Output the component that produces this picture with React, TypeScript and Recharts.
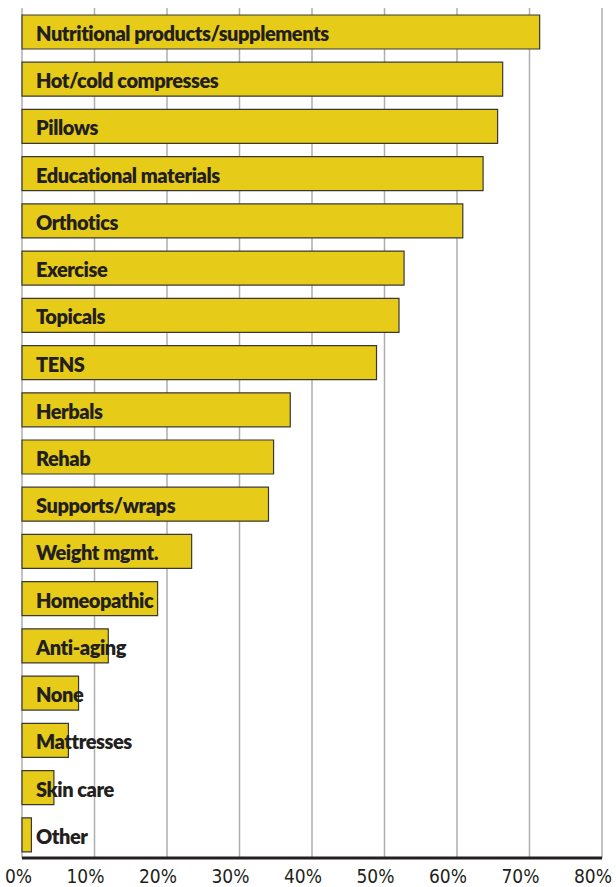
import React from 'react';
import { BarChart, Bar, XAxis, YAxis, CartesianGrid, LabelList } from 'recharts';

const categories = [
    'Nutritional products/supplements',
    'Hot/cold compresses',
    'Pillows',
    'Educational materials',
    'Orthotics',
    'Exercise',
    'Topicals',
    'TENS',
    'Herbals',
    'Rehab',
    'Supports/wraps',
    'Weight mgmt.',
    'Homeopathic',
    'Anti-aging',
    'None',
    'Mattresses',
    'Skin care',
    'Other',
];

const shares = [71.4, 66.3, 65.6, 63.6, 60.8, 52.7, 52.0, 48.9, 37.0, 34.7, 34.0, 23.4, 18.7, 11.9, 7.8, 6.4, 4.4, 1.3];

const xTicks = [0, 10, 20, 30, 40, 50, 60, 70, 80];

const data = categories.map((name, i) => ({ name, value: shares[i] }));

const BAR_COLOR = '#E7CB19';
const INK = '#231F20';

function TickLabel({ x, y, payload }: any) {
    return (
        <text
            x={x + 10}
            y={y + 17}
            textAnchor="end"
            fontFamily="'Liberation Sans Narrow', 'DejaVu Sans Condensed', sans-serif"
            fontSize={19}
            fill={INK}
        >
            {`${payload.value}%`}
        </text>
    );
}

function BarLabel({ y, height, value }: any) {
    return (
        <text
            x={36}
            y={y + height / 2 + 1}
            dominantBaseline="central"
            fontFamily="Lato, sans-serif"
            fontWeight={800}
            fontSize={20}
            letterSpacing={-0.45}
            fill={INK}
        >
            {value}
        </text>
    );
}

export default function App() {
    return (
        <div style={{ position: 'absolute', left: 0, top: 0, width: 616, height: 887, background: '#fff' }}>
            <BarChart
                width={616}
                height={887}
                data={data}
                layout="vertical"
                margin={{ top: 8, right: 14, bottom: 0, left: 22 }}
            >
                <CartesianGrid horizontal={false} stroke="#AEAEB2" strokeWidth={1.5} />
                <XAxis
                    type="number"
                    domain={[0, 80]}
                    ticks={xTicks}
                    height={29}
                    axisLine={{ stroke: INK, strokeWidth: 3 }}
                    tickLine={false}
                    tick={<TickLabel />}
                    interval={0}
                />
                <YAxis
                    type="category"
                    dataKey="name"
                    width={0}
                    tick={false}
                    tickLine={false}
                    axisLine={{ stroke: INK, strokeWidth: 3 }}
                />
                <Bar
                    dataKey="value"
                    fill={BAR_COLOR}
                    stroke="#3A3835"
                    strokeWidth={1.2}
                    barSize={34}
                    isAnimationActive={false}
                >
                    <LabelList dataKey="name" content={<BarLabel />} />
                </Bar>
            </BarChart>
        </div>
    );
}
